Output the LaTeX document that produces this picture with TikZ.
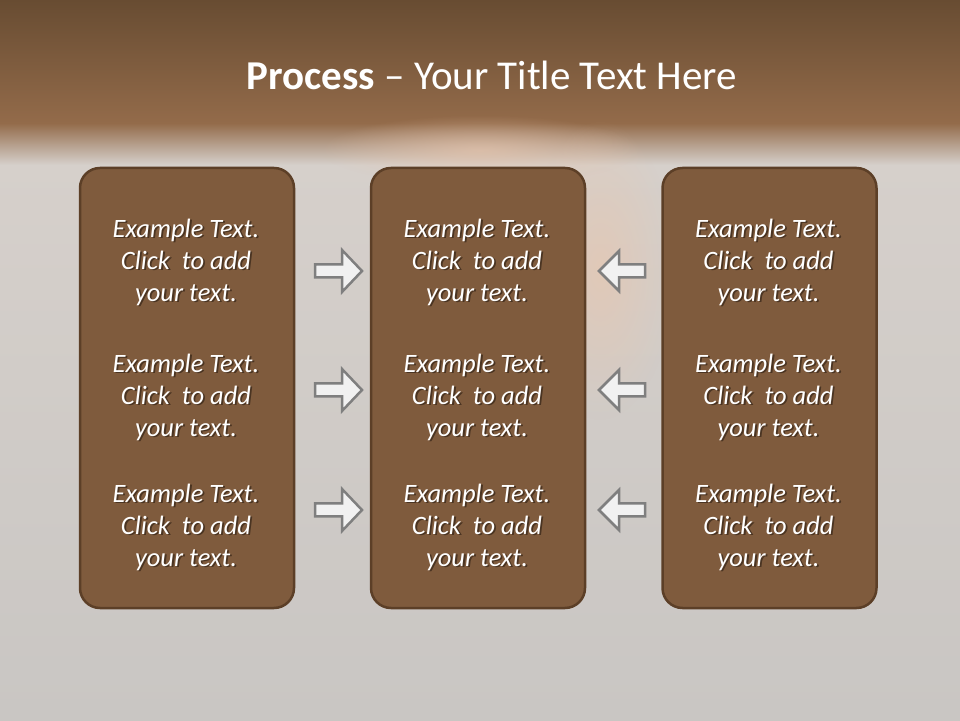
\documentclass[tikz,border=0pt]{standalone}
\usepackage{fontspec}
\setmainfont{Carlito}
\usetikzlibrary{calc,fadings}
\definecolor{bgGray}{HTML}{C9C6C3}
\definecolor{bgLight}{HTML}{D6D0CB}
\definecolor{topDark}{HTML}{684C32}
\definecolor{topMid}{HTML}{936B4A}
\definecolor{boxFill}{HTML}{7F5B3D}
\definecolor{boxLine}{HTML}{5C3F27}
\definecolor{arrFill}{HTML}{F1F1F1}
\definecolor{arrLine}{HTML}{7F7F7F}
\definecolor{glow}{HTML}{E8C6AE}
\definecolor{shadowCol}{HTML}{4A3422}
\tikzfading[name=softglow, inner color=transparent!35, outer color=transparent!100]
\tikzset{
  panel/.style={draw=boxLine, line width=2.5pt, fill=boxFill, rounded corners=20pt, minimum width=214pt, minimum height=440pt, inner sep=0pt},
  blockarrow/.style={draw=arrLine, line width=2.5pt, fill=arrFill, line join=miter},
  bodytext/.style={text=white, align=center, font=\fontsize{26.5}{32}\selectfont\itshape, inner sep=0pt},
  titletext/.style={text=white, font=\fontsize{41}{48}\selectfont, inner sep=0pt}
}
\newcommand{\shd}[1]{\makebox[0pt][l]{\kern1.8pt\raisebox{-1.8pt}{\textcolor{shadowCol}{#1}}}#1}
\newcommand{\ex}{\shd{Example Text.}\\\shd{Click~ to add}\\\shd{your text.}}
\begin{document}
\begin{tikzpicture}[x=1pt,y=1pt]
\useasboundingbox (0,0) rectangle (960,720);
% background
\fill[bgGray] (0,0) rectangle (960,720);
\shade[bottom color=bgGray, top color=bgLight] (0,0) rectangle (960,560);
\shade[top color=topMid, bottom color=bgLight] (0,555) rectangle (960,597);
\shade[top color=topDark, bottom color=topMid] (0,597) rectangle (960,720);
% warm glow
\fill[glow, path fading=softglow] (600,450) ellipse (75pt and 150pt);
\fill[glow, path fading=softglow] (480,570) ellipse (160pt and 35pt);
% title
\node[titletext] (title) at (492,645) {\textbf{Process} – Your Title Text Here};
% panels
\node[panel] (p1) at (187,332) {};
\node[panel] (p2) at (478,332) {};
\node[panel] (p3) at (769.5,332) {};
% texts
\foreach \px/\n in {186/a,477/b,768.5/c}{
  \foreach \py/\m in {457/1,322/2,192/3}{
    \node[bodytext] (t\n\m) at (\px,\py) {\ex};
  }
}
% block arrows
\foreach \cy/\m in {449/1,330/2,210/3}{
  \coordinate (ra\m) at (315,\cy);
  \draw[blockarrow] (315,\cy+6.5) -- (342,\cy+6.5) -- (342,\cy+21) -- (362,\cy) -- (342,\cy-21) -- (342,\cy-6.5) -- (315,\cy-6.5) -- cycle;
  \coordinate (la\m) at (645,\cy);
  \draw[blockarrow] (645,\cy+6.5) -- (619,\cy+6.5) -- (619,\cy+20) -- (599,\cy) -- (619,\cy-20) -- (619,\cy-6.5) -- (645,\cy-6.5) -- cycle;
}
\end{tikzpicture}
\end{document}
